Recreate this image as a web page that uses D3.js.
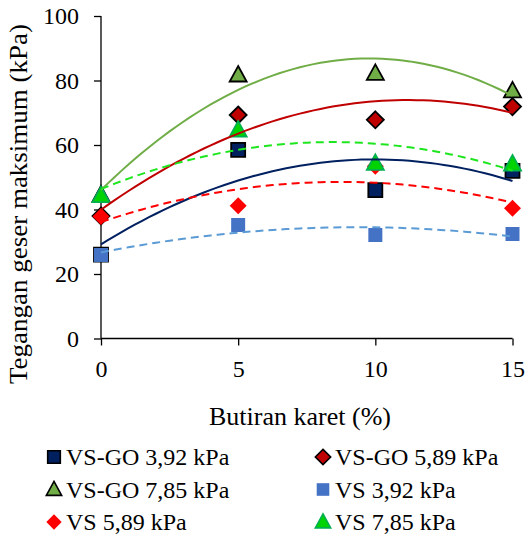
<!DOCTYPE html>
<html>
<head>
<meta charset="utf-8">
<script src="https://cdn.jsdelivr.net/npm/d3@7"></script>
<style>
body{margin:0;background:#fff;}
</style>
</head>
<body>
<script>
// data
var karet = [0, 5, 10, 15];
var seriesNames = ["VS-GO 3,92 kPa","VS-GO 5,89 kPa","VS-GO 7,85 kPa","VS 3,92 kPa","VS 5,89 kPa","VS 7,85 kPa"];
var vsgo392 = [26, 58.5, 46, 52];
var vsgo589 = [38, 69.3, 67.8, 71.9];
var vsgo785 = [44.5, 81.7, 82.2, 76.8];
var vs392 = [25.9, 35.2, 32.1, 32.4];
var vs589 = [37.8, 41.2, 53.4, 40.4];
var vs785 = [44.3, 64.6, 54.3, 54.1];
var yTicks = [0, 20, 40, 60, 80, 100];
var xTicks = [0, 5, 10, 15];

var FONT = "Liberation Serif, Times New Roman, Tinos, DejaVu Serif, serif";

var values = [vsgo392, vsgo589, vsgo785, vs392, vs589, vs785];
var styles = [
	{shape:"square", fill:"#002060", stroke:"#000", line:"#002060", dash:null},
	{shape:"diamond", fill:"#C00000", stroke:"#000", line:"#C00000", dash:null},
	{shape:"triangle", fill:"#70AD47", stroke:"#000", line:"#70AD47", dash:null},
	{shape:"square", fill:"#4472C4", stroke:"none", line:"#5B9BD5", dash:"8,5"},
	{shape:"diamond", fill:"#FF0000", stroke:"none", line:"#FF0000", dash:"8,5"},
	{shape:"triangle", fill:"#00D400", stroke:"#00B050", line:"#1EE61E", dash:"8,5"}
];

var width = 527, height = 539;
var svg = d3.select("body").append("svg")
	.attr("width", width)
	.attr("height", height)
	.attr("font-family", FONT);

var x = d3.scaleLinear().domain([0, 15]).range([101, 512.5]);
var y = d3.scaleLinear().domain([0, 100]).range([338.5, 16]);

// polynomial (order 2) trendline, least squares
function quadFit(xs, ys){
	var s = [0,0,0,0,0], t = [0,0,0];
	xs.forEach(function(xv, i){
		for(var k=0;k<5;k++) s[k] += Math.pow(xv, k);
		for(var k=0;k<3;k++) t[k] += ys[i]*Math.pow(xv, k);
	});
	var m = [[s[0],s[1],s[2],t[0]],[s[1],s[2],s[3],t[1]],[s[2],s[3],s[4],t[2]]];
	for(var i=0;i<3;i++){
		for(var j=i+1;j<3;j++){
			var f = m[j][i]/m[i][i];
			for(var k=i;k<4;k++) m[j][k] -= f*m[i][k];
		}
	}
	var c = [0,0,0];
	for(var i=2;i>=0;i--){
		var v = m[i][3];
		for(var k=i+1;k<3;k++) v -= m[i][k]*c[k];
		c[i] = v/m[i][i];
	}
	return function(xv){ return c[0] + c[1]*xv + c[2]*xv*xv; };
}

function shapePath(shape){
	if(shape=="square") return d3.symbol().type(d3.symbolSquare).size(196)();
	if(shape=="diamond") return "M0,-8.5L8.5,0L0,8.5L-8.5,0Z";
	return "M0,-9L8.5,6.5L-8.5,6.5Z";
}

// axes
var yAxis = svg.append("g")
	.attr("transform", "translate(101,0)")
	.call(d3.axisLeft(y).tickValues(yTicks).tickSize(7).tickPadding(15));
var xAxis = svg.append("g")
	.attr("transform", "translate(0,338.5)")
	.call(d3.axisBottom(x).tickValues(xTicks).tickSize(7).tickPadding(14));
svg.selectAll("g").attr("font-family", FONT).attr("font-size", 24);
svg.selectAll(".domain").attr("stroke", "#000").attr("stroke-width", 1.3);
svg.selectAll(".tick line").attr("stroke", "#000").attr("stroke-width", 1.3);
yAxis.selectAll(".domain").attr("d", "M0,338.5V16");
xAxis.selectAll(".domain").attr("d", "M101,0H512.5");
svg.selectAll(".tick text").attr("fill", "#000");

// markers
values.forEach(function(vals, si){
	svg.append("g")
		.selectAll("path")
		.data(vals)
		.join("path")
		.attr("d", shapePath(styles[si].shape))
		.attr("transform", function(d, i){ return "translate(" + x(karet[i]) + "," + y(d) + ")"; })
		.attr("fill", styles[si].fill)
		.attr("stroke", styles[si].stroke)
		.attr("stroke-width", 1.8);
});

// trendlines drawn on top
var xs = d3.range(0, 15.01, 0.25);
values.forEach(function(vals, si){
	var f = quadFit(karet, vals);
	svg.append("path")
		.datum(xs)
		.attr("d", d3.line().x(function(d){ return x(d); }).y(function(d){ return y(f(d)); }))
		.attr("fill", "none")
		.attr("stroke", styles[si].line)
		.attr("stroke-width", 2)
		.attr("stroke-dasharray", styles[si].dash);
});

// axis titles
svg.append("text")
	.attr("x", 300)
	.attr("y", 425)
	.attr("text-anchor", "middle")
	.attr("font-size", 26)
	.text("Butiran karet (%)");
svg.append("text")
	.attr("transform", "translate(27,204) rotate(-90)")
	.attr("text-anchor", "middle")
	.attr("font-size", 25)
	.attr("textLength", 360)
	.attr("lengthAdjust", "spacingAndGlyphs")
	.text("Tegangan geser maksimum (kPa)");

// legend
var legend = svg.append("g");
seriesNames.forEach(function(name, i){
	var col = i % 2, row = Math.floor(i / 2);
	var lx = col == 0 ? 54 : 323;
	var ly = 457 + row * 32.5;
	legend.append("path")
		.attr("d", shapePath(styles[i].shape))
		.attr("transform", "translate(" + lx + "," + ly + ") scale(0.9)")
		.attr("fill", styles[i].fill)
		.attr("stroke", styles[i].stroke)
		.attr("stroke-width", 1.8);
	legend.append("text")
		.attr("x", lx + 12)
		.attr("y", ly + 8)
		.attr("font-size", 24)
		.text(name);
});
</script>
</body>
</html>
